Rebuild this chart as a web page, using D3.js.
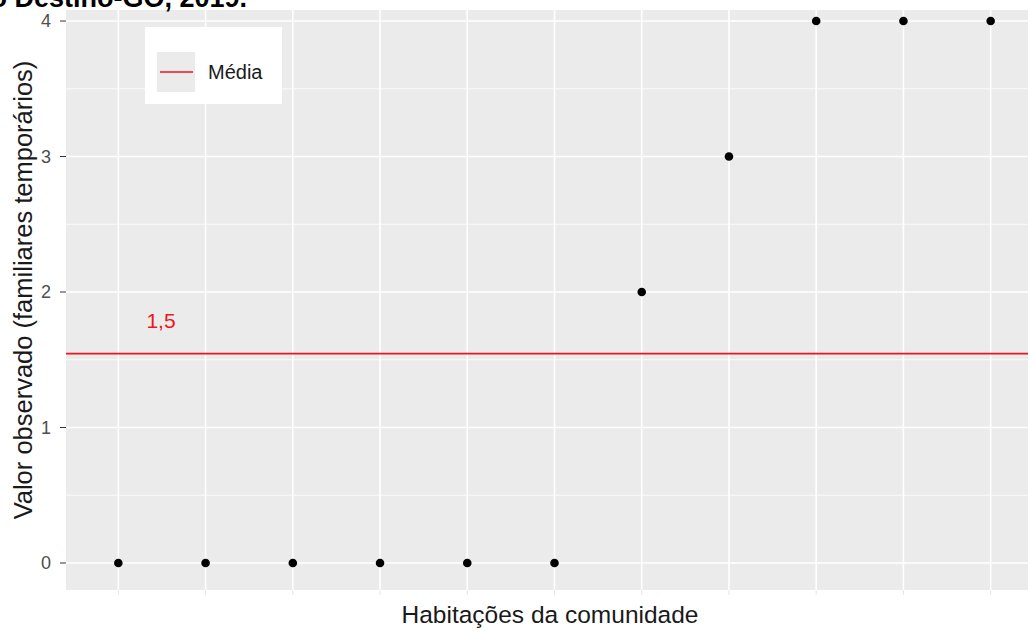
<!DOCTYPE html>
<html>
<head>
<meta charset="utf-8">
<script src="https://cdn.jsdelivr.net/npm/d3@7"></script>
<style>
  body { margin:0; background:#fff; }
  svg text { font-family: "Liberation Sans", Arial, sans-serif; }
</style>
</head>
<body>
<svg id="chart" width="1028" height="631"></svg>
<script>
/* data */
const casas   = ["1","2","3","4","5","6","7","8","9","10","11"];
const valores = [0, 0, 0, 0, 0, 0, 2, 3, 4, 4, 4];
const yTicks  = [0, 1, 2, 3, 4];
const yMinor  = [0.5, 1.5, 2.5, 3.5];

const svg = d3.select("#chart");
const panel = {left:66, right:1043, top:10, bottom:590};

const x = d3.scalePoint().domain(casas).range([panel.left, panel.right]).padding(0.6);
const y = d3.scaleLinear().domain([-0.2, 4.2]).range([590.1, -6.1]);

svg.append("clipPath").attr("id","clip")
   .append("rect").attr("x",panel.left).attr("y",panel.top)
   .attr("width",panel.right-panel.left).attr("height",panel.bottom-panel.top);

const g = svg.append("g").attr("clip-path","url(#clip)");
g.append("rect").attr("x",panel.left).attr("y",panel.top)
 .attr("width",panel.right-panel.left).attr("height",panel.bottom-panel.top)
 .attr("fill","#ebebeb");

// grid
g.selectAll(".minor").data(yMinor).enter().append("line")
 .attr("x1",panel.left).attr("x2",panel.right)
 .attr("y1",d=>y(d)).attr("y2",d=>y(d))
 .attr("stroke","#fff").attr("stroke-width",0.8);
g.selectAll(".hmajor").data(yTicks).enter().append("line")
 .attr("x1",panel.left).attr("x2",panel.right)
 .attr("y1",d=>y(d)).attr("y2",d=>y(d))
 .attr("stroke","#fff").attr("stroke-width",1.6);
g.selectAll(".vmajor").data(casas).enter().append("line")
 .attr("x1",d=>x(d)).attr("x2",d=>x(d))
 .attr("y1",panel.top).attr("y2",panel.bottom)
 .attr("stroke","#fff").attr("stroke-width",1.6);

// mean line
const media = d3.mean(valores);
g.append("line").attr("x1",panel.left).attr("x2",panel.right)
 .attr("y1",y(media)).attr("y2",y(media))
 .attr("stroke","#f0141e").attr("stroke-width",1.6);
g.append("text").attr("x",161).attr("y",y(media)-26)
 .attr("text-anchor","middle").attr("font-size",21).attr("fill","#f0141e")
 .text(d3.format(".1f")(media).replace(".", ","));

// points
g.selectAll(".pt").data(valores).enter().append("circle")
 .attr("cx",(d,i)=>x(casas[i])).attr("cy",d=>y(d)).attr("r",4.3)
 .attr("fill","#000");

// y axis
const ya = svg.append("g");
ya.selectAll("line").data(yTicks).enter().append("line")
  .attr("x1",60).attr("x2",66).attr("y1",d=>y(d)).attr("y2",d=>y(d))
  .attr("stroke","#333").attr("stroke-width",1);
ya.selectAll("text").data(yTicks).enter().append("text")
  .attr("x",51).attr("y",d=>y(d)).attr("dy","0.36em")
  .attr("text-anchor","end").attr("font-size",18).attr("fill","#4d4d4d")
  .text(d=>d);

// x ticks (labels blank)
svg.selectAll(".xt").data(casas).enter().append("line")
  .attr("x1",d=>x(d)).attr("x2",d=>x(d)).attr("y1",590).attr("y2",595)
  .attr("stroke","#e6e6e6").attr("stroke-width",1);

// axis titles
svg.append("text").attr("x",550).attr("y",623)
  .attr("text-anchor","middle").attr("font-size",24.5).attr("fill","#1a1a1a")
  .text("Habitações da comunidade");
svg.append("text").attr("transform","translate(32,290) rotate(-90)")
  .attr("text-anchor","middle").attr("font-size",25.5).attr("fill","#1a1a1a")
  .text("Valor observado (familiares temporários)");

// legend
const lg = svg.append("g");
lg.append("rect").attr("x",145).attr("y",27).attr("width",137).attr("height",77).attr("fill","#fff");
lg.append("rect").attr("x",157).attr("y",52).attr("width",38).attr("height",40).attr("fill","#ebebeb");
lg.append("line").attr("x1",160).attr("x2",193).attr("y1",72).attr("y2",72)
  .attr("stroke","#f0141e").attr("stroke-width",1.6);
lg.append("text").attr("x",208).attr("y",72).attr("dy","0.36em")
  .attr("font-size",20).attr("fill","#1a1a1a").text("Média");

// title (cut off at top, as in the reference)
svg.append("text").attr("x",247).attr("y",7)
  .attr("text-anchor","end").attr("font-size",27).attr("font-weight","bold")
  .attr("fill","#000").text("Novo Destino-GO, 2019.");
</script>
</body>
</html>
